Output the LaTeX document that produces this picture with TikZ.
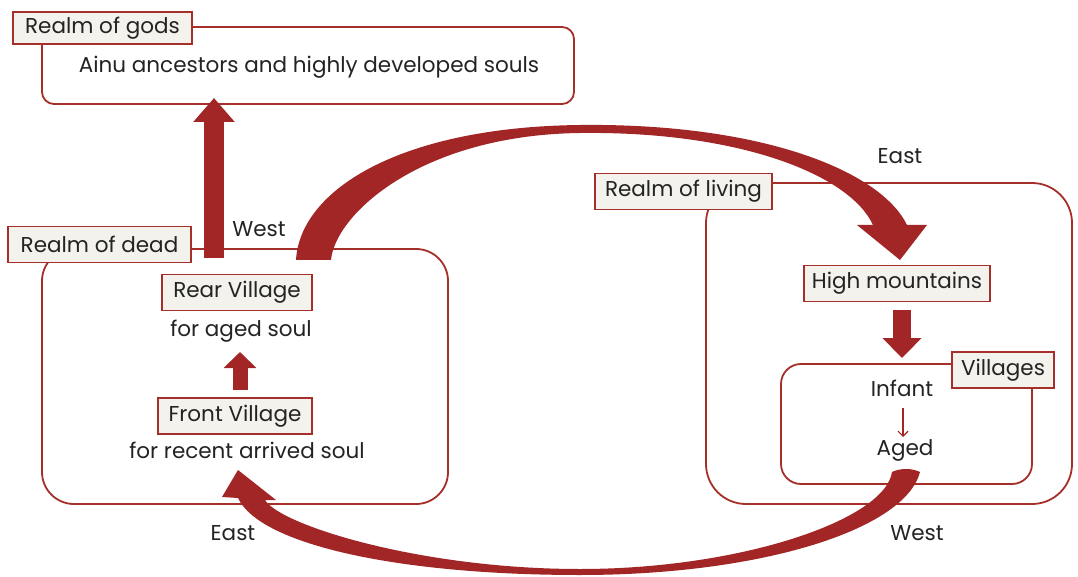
\documentclass[tikz,border=0pt]{standalone}
\usepackage{fontspec}
\setmainfont{Poppins}
\usetikzlibrary{arrows.meta}
\definecolor{linec}{RGB}{165,48,42}
\definecolor{arrowc}{RGB}{163,38,38}
\definecolor{lblfill}{RGB}{243,242,237}
\definecolor{txt}{RGB}{35,35,35}
\tikzset{
  realm/.style={draw=linec, line width=1.8, inner sep=0pt},
  lbl/.style={draw=linec, fill=lblfill, line width=1.5, inner sep=0pt, minimum height=36, text=txt},
  plain/.style={inner sep=0pt, text=txt},
}
\begin{document}
\begin{tikzpicture}[x=1pt,y=-1pt, font=\fontsize{21.5}{25}\selectfont]
\useasboundingbox (0,0) rectangle (1078,577);
\fill[white] (0,0) rectangle (1078,577);

% boxes
\node[realm, rounded corners=12, minimum width=532, minimum height=77] (gods) at (308,65.5) {};
\node[realm, rounded corners=32, minimum width=406, minimum height=255] (dead) at (245,376.5) {};
\node[realm, rounded corners=40, minimum width=366, minimum height=321] (living) at (889,343.5) {};
\node[realm, rounded corners=20, minimum width=251, minimum height=120] (villages) at (906.5,424) {};

% labels
\node[lbl, minimum width=179, minimum height=32] (godslbl) at (102.5,28) {Realm of gods};
\node[lbl, minimum width=183] (deadlbl) at (99.5,244.5) {Realm of dead};
\node[lbl, minimum width=177] (livinglbl) at (683.5,191.5) {Realm of living};
\node[lbl, minimum width=186] (high) at (897,283.5) {High mountains};
\node[lbl, minimum width=102] (villlbl) at (1003,370) {Villages};
\node[lbl, minimum width=150] (rear) at (237,292.5) {Rear Village};
\node[lbl, minimum width=154] (front) at (235,416) {Front Village};

% texts
\node[plain] (ainu) at (309,67) {Ainu ancestors and highly developed souls};
\node[plain] (aged1) at (241,331) {for aged soul};
\node[plain] (recent) at (247,450) {for recent arrived soul};
\node[plain] (westA) at (259,229) {West};
\node[plain] (eastA) at (900,156) {East};
\node[plain] (eastB) at (233,533) {East};
\node[plain] (westB) at (917,533) {West};
\node[plain] (infant) at (902,388) {Infant};
\node[plain] (aged) at (905,450) {Aged};

% straight arrows
\coordinate (upS) at (214,258);
\coordinate (upE) at (214,98);
\draw[arrowc, line width=20, -{Triangle[length=24pt,width=40pt]}] (upS) -- (upE);
\coordinate (smS) at (240,390);
\coordinate (smE) at (240,352);
\draw[arrowc, line width=15, -{Triangle[length=16pt,width=32pt]}] (smS) -- (smE);
\coordinate (dnS) at (902,310);
\coordinate (dnE) at (902,358);
\draw[arrowc, line width=18, -{Triangle[length=20pt,width=38pt]}] (dnS) -- (dnE);
\coordinate (iaS) at (903,408);
\coordinate (iaE) at (903,437);
\draw[arrowc, line width=1.2, -{Straight Barb[length=5pt,width=10pt]}] (iaS) -- (iaE);

% curved arrow: dead -> living (over the top)
\fill[arrowc] (296,260) .. controls (300,190) and (400,127) .. (580,125)
  .. controls (760,123) and (880,170) .. (907,225)
  -- (927,225) -- (900,260) -- (857,225) -- (873,225)
  .. controls (850,175) and (740,131) .. (580,133)
  .. controls (420,135) and (335,215) .. (331,260) -- cycle;

% curved arrow: villages -> dead (under the bottom)
\fill[arrowc] (920,472) .. controls (905,530) and (760,575) .. (580,575)
  .. controls (400,575) and (260,545) .. (238,498)
  -- (222,497) -- (238,470) -- (276,500) -- (265,500)
  .. controls (280,525) and (420,569) .. (580,569)
  .. controls (740,569) and (885,520) .. (892,472)
  .. controls (900,468) and (912,468) .. (920,472) -- cycle;
\end{tikzpicture}
\end{document}
